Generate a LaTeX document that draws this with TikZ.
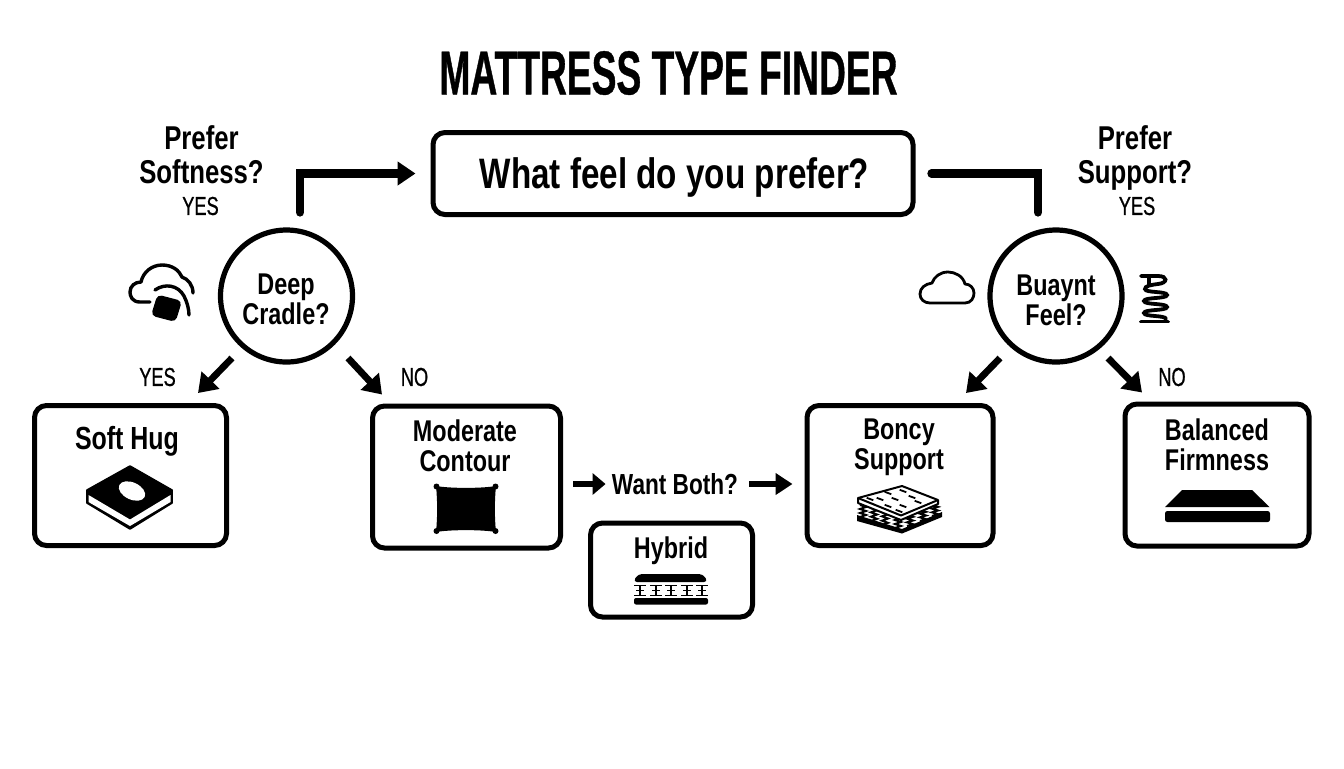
\documentclass[tikz,border=0pt]{standalone}
\usepackage{fontspec}
\setmainfont[FakeStretch=0.78,BoldFont={Liberation Sans Bold}]{Liberation Sans}
\newfontfamily\titlefont[FakeStretch=0.6,FakeBold=0.6]{Liberation Sans Bold}
\newfontfamily\capsfont[FakeStretch=0.7,FakeBold=0.7]{Liberation Sans}
\usetikzlibrary{arrows.meta}
\tikzset{
  box/.style={draw=black,line width=2.5pt,rounded corners=6pt,fill=white},
  decision/.style={draw=black,line width=2.6pt,circle,minimum size=66pt,inner sep=0pt,fill=white},
  lbl/.style={inner sep=0pt,align=center,font=\fontsize{15}{15}\selectfont\bfseries},
  biglbl/.style={inner sep=0pt,align=center,font=\fontsize{16.5}{17}\selectfont\bfseries},
  small/.style={inner sep=0pt,font=\fontsize{13}{15}\capsfont\selectfont},
  elbow/.style={line width=4.2pt,line cap=round,line join=miter},
  flow/.style={line width=3.4pt,-{Triangle[length=9pt,width=12pt]}},
  flowthin/.style={line width=3.4pt,-{Triangle[length=6.5pt,width=10.5pt]}},
  flowlong/.style={line width=3.4pt,-{Triangle[length=8.5pt,width=10.5pt]}},
  ink/.style={fill=black,draw=black,line width=0.8pt,line join=round},
  outl/.style={draw=black,line width=1.4pt,line cap=round,line join=round},
  outlthick/.style={draw=black,line width=1.7pt,line cap=round,line join=round},
  coil/.style={draw=black,line width=1.9pt,line cap=round},
  fine/.style={draw=black,line width=0.5pt,line join=round},
}
\begin{document}
\begin{tikzpicture}[x=0.5pt,y=-0.5pt]
\useasboundingbox (0,0) rectangle (1344,768);
\fill[white] (0,0) rectangle (1344,768);
% title
\node[inner sep=0pt,font=\fontsize{31}{33}\titlefont\selectfont] (title) at (668.5,73) {MATTRESS TYPE FINDER};
% main question
\node[box,minimum width=240pt,minimum height=41pt,text depth=0pt,font=\fontsize{21.3}{24}\selectfont\bfseries] (q) at (673,173.5) {\hspace{1.5pt}What feel do you prefer?};
\node[biglbl] (ps) at (201.5,155) {Prefer\\Softness?};
\node[small] (y1) at (200.5,206) {YES};
\node[biglbl] (ps2) at (1135,158) {Prefer\\Support?};
\node[small] (y2) at (1137,206) {YES};
% decisions
\node[decision] (deep) at (286.5,296) {};
\node[lbl] (deept) at (286,299) {Deep\\Cradle?};
\node[decision] (buoy) at (1056,296) {};
\node[lbl] (buoyt) at (1056,300) {Buaynt\\Feel?};
% results
\node[box,minimum width=96pt,minimum height=70pt] (soft) at (130.5,475.5) {};
\node[lbl,font=\fontsize{16}{17}\selectfont\bfseries] (softt) at (127,441) {Soft Hug};
\node[box,minimum width=94pt,minimum height=71pt] (mod) at (466.5,477) {};
\node[lbl] (modt) at (465,446) {Moderate\\Contour};
\node[box,minimum width=81pt,minimum height=47pt] (hyb) at (671.5,570) {};
\node[lbl] (hybt) at (671,551) {Hybrid};
\node[box,minimum width=93pt,minimum height=70pt] (bon) at (900,475.5) {};
\node[lbl] (bont) at (899,447) {Boncy\\Support};
\node[box,minimum width=92pt,minimum height=71pt] (bal) at (1217,475) {};
\node[lbl] (balt) at (1217,445) {Balanced\\Firmness};
% labels
\node[small] (ly) at (157.5,377) {YES};
\node[small] (ln) at (414.5,377) {NO};
\node[small] (ln2) at (1172,377) {NO};
\node[lbl,font=\fontsize{14.5}{15}\selectfont\bfseries] (want) at (675,484) {Want Both?};
% connectors
\draw[elbow,-{Triangle[length=9pt,width=11.5pt]}] ([shift={(13.5,-15)}]deep.north) |- ([xshift=-7.5pt]q.west);
\draw[elbow] ([shift={(16,0)}]q.east) -| ([shift={(-18,-15)}]buoy.north);
\draw[flow] ([shift={(-54.5,62)}]deep.center) -- ([shift={(67.5,-10)}]soft.north);
\draw[flow] ([shift={(61.5,62)}]deep.center) -- ([shift={(-84.5,-9)}]mod.north);
\draw[flow] ([shift={(-56,62)}]buoy.center) -- ([shift={(66,-10)}]bon.north);
\draw[flow] ([shift={(52,62)}]buoy.center) -- ([shift={(-75,-9)}]bal.north);
\path (mod.east |- want.west) coordinate (wa) (bon.west |- want.east) coordinate (wb);
\draw[flowthin] ([xshift=5pt]wa) -- ([xshift=-3pt]want.west);
\draw[flowlong] ([xshift=5.5pt]want.east) -- ([xshift=-6pt]wb);
% icon: cloud with foam cube
\draw[outlthick] (150,302) -- (140,302) .. controls (132,302) and (130,296) .. (130,292) .. controls (130,286) and (135,282) .. (141,282)
  .. controls (143,272) and (152,265) .. (162,265) .. controls (172,265) and (179,270) .. (182,277) .. controls (188,279) and (193,285) .. (193,293);
\draw[outlthick] (155,290) .. controls (165,283) and (178,285) .. (184,296) .. controls (187,302) and (189,309) .. (189,315);
\fill[ink,rounded corners=2pt] (158,295.5) -- (181,301.5) -- (175,321) -- (152,315) -- cycle;
% icon: plain cloud
\draw[outl] (930,303) -- (965,303) .. controls (971,303) and (974,298) .. (974,293) .. controls (974,288) and (970,284) .. (965,284)
  .. controls (963,276) and (955,272) .. (948,272) .. controls (940,272) and (934,277) .. (932,283)
  .. controls (925,284) and (920,288) .. (920,294) .. controls (920,299) and (924,303) .. (930,303) -- cycle;
% icon: spring
\draw[coil] (1141,276) -- (1158,276) .. controls (1168,276) and (1168,283) .. (1158,284) .. controls (1150,285) and (1145,286) .. (1145,289)
  .. controls (1145,293) and (1167,291) .. (1167,295)
  .. controls (1167,299) and (1144,297) .. (1144,301)
  .. controls (1144,305) and (1167,303) .. (1167,307)
  .. controls (1167,311) and (1144,309) .. (1144,313)
  .. controls (1144,317) and (1166,315) .. (1166,319);
\draw[coil] (1149,277) -- (1149,285);
\draw[coil] (1141,321.5) -- (1168,321.5);
% icon: foam block (Soft Hug)
\fill[ink] (130,466) -- (172,490) -- (172,503) -- (130,529) -- (87,503) -- (87,490) -- cycle;
\fill[white] (88.5,495) -- (130,519.5) -- (170.5,495) -- (170.5,502) -- (130,526) -- (88.5,502) -- cycle;
\fill[white,rotate around={-25:(132,491)}] (132,491) ellipse (14 and 8.5);
% icon: pillow (Moderate Contour)
\fill[black] (436,486) .. controls (450,488.5) and (482,488.5) .. (496,486)
  .. controls (494.5,500) and (494.5,518) .. (496,532)
  .. controls (482,529.5) and (450,529.5) .. (436,532)
  .. controls (437.5,518) and (437.5,500) .. (436,486) -- cycle;
\fill[black] (436.5,486.5) circle (3) (495.5,486.5) circle (3) (436.5,531) circle (3) (495.5,531) circle (3);
% icon: spring mattress (Boncy Support)
\fill[black] (857,515) -- (902,529) -- (942,512) -- (942,517) -- (902,533.5) -- (857,521) -- cycle;
\foreach \sx/\sy/\sz in {863/505/517,874/508/521,885/512/525,898/516/528,910/515/526,923/510/521,935/505/516}{
  \draw[line width=1pt] (\sx-3,\sy) -- (\sx+3,{\sy+(\sz-\sy)*0.167}) -- (\sx-3,{\sy+(\sz-\sy)*0.333}) -- (\sx+3,{\sy+(\sz-\sy)*0.5}) -- (\sx-3,{\sy+(\sz-\sy)*0.667}) -- (\sx+3,{\sy+(\sz-\sy)*0.833}) -- (\sx-3,\sz);
}
\draw[fine,fill=white,line width=1pt] (902,486) -- (938,500) -- (938,504) -- (901,520) -- (858,503) -- (858,498) -- cycle;
\draw[fine,line width=1pt] (858,498) -- (901,515.5) -- (938,500);
\foreach \dx/\dy in {888/493,903/491,880/499,895/499,912/497,888/506,903/506,918/502,899/511,870/499}{
  \draw[line width=0.9pt,rotate around={-20:(\dx,\dy)}] (\dx-3.5,\dy) -- (\dx+3.5,\dy);
}
% icon: hybrid layers
\fill[black,rounded corners=2pt] (633,582) -- (638,574) -- (703,574) -- (708,582) -- cycle;
\fill[black,rounded corners=1pt] (634,598) rectangle (708,604.5);
\foreach \sx in {640,656,671,687,702}{
  \fill[black] (\sx-6,584.5) rectangle (\sx+6,586);
  \fill[black] (\sx-4,589.5) rectangle (\sx+4,591);
  \fill[black] (\sx-6,594.5) rectangle (\sx+6,596);
  \fill[black] (\sx-1,585) rectangle (\sx+1,595);
}
% icon: firm mattress
\fill[black] (1165,507) -- (1182,490) -- (1252,490) -- (1269.5,507) -- cycle;
\fill[black,rounded corners=1.2pt] (1165,511) rectangle (1270,522);
\end{tikzpicture}
\end{document}
